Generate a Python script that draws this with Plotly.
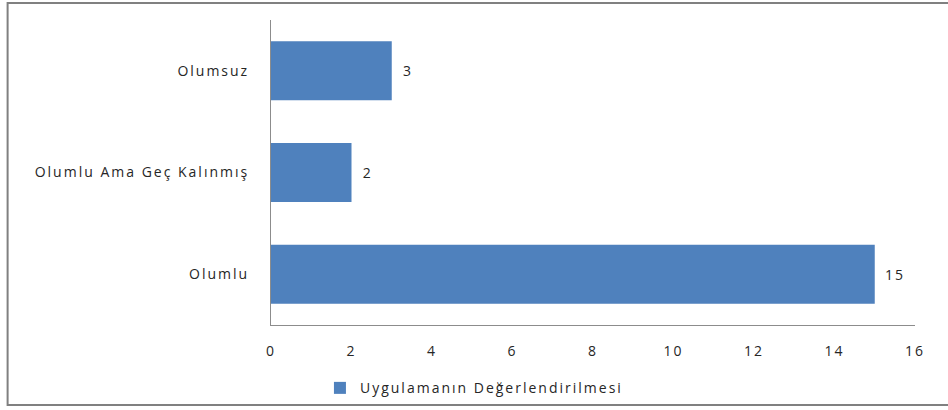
import plotly.graph_objects as go

# Data
categories = ["Olumlu", "Olumlu Ama Geç Kalınmış", "Olumsuz"]
values = [15, 2, 3]
series_name = "Uygulamanın Değerlendirilmesi"

BAR_BLUE = "#4F81BD"
AXIS_GREY = "#8c8c8c"
TEXT = "#262626"
FONT = "Open Sans, Liberation Sans, sans-serif"

fig = go.Figure()
fig.add_trace(go.Bar(
    x=values,
    y=categories,
    orientation="h",
    name=series_name,
    marker=dict(color=BAR_BLUE, line=dict(width=0)),
    width=0.58,
    text=values,
    texttemplate="  %{x}",
    textposition="outside",
    textfont=dict(family=FONT, size=14, color=TEXT),
    cliponaxis=False,
    showlegend=True,
))

fig.update_layout(
    width=948,
    height=410,
    margin=dict(l=271, r=33, t=20, b=85, autoexpand=False),
    paper_bgcolor="white",
    plot_bgcolor="white",
    font=dict(family=FONT, size=14, color=TEXT),
    showlegend=True,
    legend=dict(
        orientation="h",
        x=0.076, y=-0.155,
        xanchor="left", yanchor="top",
        bgcolor="rgba(0,0,0,0)",
        font=dict(family=FONT, size=14, color=TEXT),
        itemwidth=30,
    ),
    xaxis=dict(
        range=[0, 16],
        dtick=2,
        showgrid=False,
        zeroline=False,
        showline=True,
        linecolor=AXIS_GREY,
        linewidth=1,
        ticks="",
        ticklabelstandoff=13,
        tickfont=dict(family=FONT, size=14, color=TEXT),
    ),
    yaxis=dict(
        showgrid=False,
        zeroline=False,
        showline=True,
        linecolor=AXIS_GREY,
        linewidth=1,
        ticks="",
        ticklabelstandoff=18,
        tickfont=dict(family=FONT, size=14, color=TEXT),
    ),
    shapes=[dict(
        type="rect", xref="paper", yref="paper",
        x0=-0.409, x1=1.06, y0=-0.262, y1=1.056,
        line=dict(color="#808080", width=2),
        fillcolor="rgba(0,0,0,0)",
        layer="below",
    )],
)

# page without body margin, and the wide letter spacing of the original
post = """
document.body.style.margin = '0';
var gd = document.getElementById('{plot_id}');
function spread() {
  gd.querySelectorAll('text').forEach(function (t) { t.style.letterSpacing = '2px'; });
  gd.querySelectorAll('.legend [clip-path]').forEach(function (e) { e.removeAttribute('clip-path'); });
}
spread();
gd.on('plotly_afterplot', spread);
"""

fig.write_html("out.html", post_script=post, config={"displayModeBar": False})
